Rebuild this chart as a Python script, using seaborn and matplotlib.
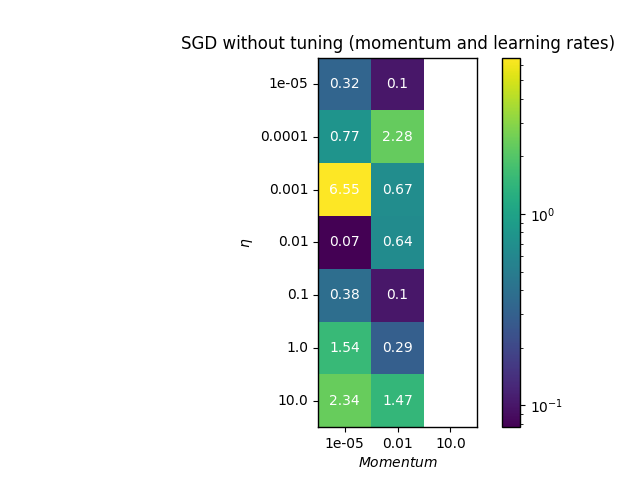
import numpy as np
import matplotlib
matplotlib.use("Agg")
from matplotlib import pyplot as plt
from matplotlib.colors import LogNorm
import seaborn as sns

# Lernraten (Zeilen) und Momentum (Spalten)
learning_rates = ["1e-05", "0.0001", "0.001", "0.01", "0.1", "1.0", "10.0"]
momentums = ["1e-05", "0.01", "10.0"]

# Verlust pro Kombination, letzte Spalte ohne Werte
loss_mom_1e5 = [0.32, 0.77, 6.55, 0.07, 0.38, 1.54, 2.34]
loss_mom_001 = [0.1, 2.28, 0.67, 0.64, 0.1, 0.29, 1.47]
loss_mom_10 = [np.nan] * 7

values = np.array([loss_mom_1e5, loss_mom_001, loss_mom_10]).T
labels = np.array([["" if np.isnan(v) else str(v) for v in row] for row in values])

fig, ax = plt.subplots(figsize=(6.4, 4.8), dpi=100)
sns.heatmap(values, ax=ax, cmap="viridis", norm=LogNorm(vmin=0.077, vmax=6.55),
            annot=labels, fmt="", annot_kws={"color": "white", "fontsize": 10},
            square=True, xticklabels=momentums, yticklabels=learning_rates)

# Rahmen wieder einblenden (seaborn entfernt ihn)
for spine in ax.spines.values():
    spine.set_visible(True)
    spine.set_linewidth(1.0)
cbar = ax.collections[0].colorbar
cbar.outline.set_linewidth(1.0)

ax.set_yticklabels(learning_rates, rotation=0)
ax.set_xticklabels(momentums, rotation=0)
ax.set_xlabel("$Momentum$")
ax.set_ylabel(r"$\eta$")
ax.set_title("SGD without tuning (momentum and learning rates)")

plt.savefig("out.png", dpi=100)
